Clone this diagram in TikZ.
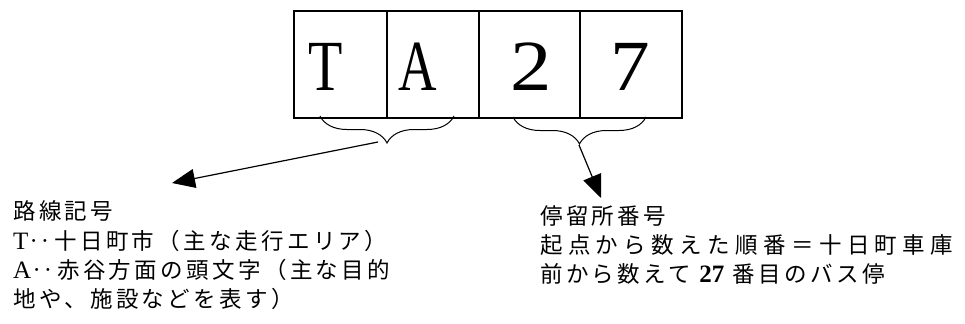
\documentclass[tikz,border=0pt]{standalone}
\usepackage{fontspec}
\setmainfont{Liberation Serif}
\newfontfamily\jpfont{Noto Sans CJK JP}[LetterSpace=15]
\newfontfamily\jpwide{Noto Sans CJK JP}[LetterSpace=24]
\newcommand{\latin}[1]{{\rmfamily\fontsize{25bp}{29bp}\selectfont #1}}
\usetikzlibrary{arrows.meta,decorations.pathreplacing}

\tikzset{
  cell/.style={line width=1.2bp},
  bigchar/.style={font=\fontsize{72bp}{72bp}\selectfont, inner sep=0pt, anchor=base},
  jptext/.style={font=\fontsize{22.5bp}{29bp}\selectfont\jpfont, inner sep=0pt, anchor=base west},
  jpwidetext/.style={jptext, font=\fontsize{22.5bp}{29bp}\selectfont\jpwide},
  curly/.style={decorate, decoration={brace, mirror, amplitude=27bp}, line width=1bp},
  pointer/.style={-{Triangle[length=23bp,width=19bp]}, line width=1.2bp},
}

\begin{document}
\begin{tikzpicture}[x=1bp,y=1bp]
                \useasboundingbox (0,0) rectangle (965,323);

                \draw[cell] (294,205) rectangle (682,312);
                \draw[cell] (294,205) rectangle (387,312);
                \draw[cell] (387,205) rectangle (479,312);
                \draw[cell] (479,205) rectangle (580,312);

                \node[bigchar] (cT) at (326,233) {\scalebox{0.78}[1]{T}};
                \node[bigchar] (cA) at (418,233) {\scalebox{0.74}[1]{A}};
                \node[bigchar] (c2) at (531,233) {\scalebox{1.15}[1]{2}};
                \node[bigchar] (c7) at (630,233) {\scalebox{1.1}[1]{7}};

                % braces under the cells
                \draw[curly] (320,207) -- (454,207);
                \draw[curly] (513,206) -- (646,206);
                \coordinate (routeFrom) at (378,181);
                \coordinate (stopFrom) at (579,178);

                \node[jptext] (route1) at (13,104) {路線記号};
                \node[jptext] (route2) at (13,74) {\latin{T}‥十日町市（主な走行エリア）};
                \node[jptext] (route3) at (13,45) {\latin{A}‥赤谷方面の頭文字（主な目的};
                \node[jptext] (route4) at (13,16) {地や、施設などを表す）};

                \node[jptext] (stop1) at (540,99) {停留所番号};
                \node[jpwidetext] (stop2) at (540,70) {起点から数えた順番＝十日町車庫};
                \node[jptext] (stop3) at (540,41) {前から数えて \latin{\bfseries 27} 番目のバス停};

                % arrows to the labels
                \coordinate (routeEnd) at (172,140);
                \coordinate (stopEnd) at (601,125);
                \draw[pointer] (routeFrom) -- (routeEnd);
                \draw[pointer] (stopFrom) -- (stopEnd);
\end{tikzpicture}
\end{document}
